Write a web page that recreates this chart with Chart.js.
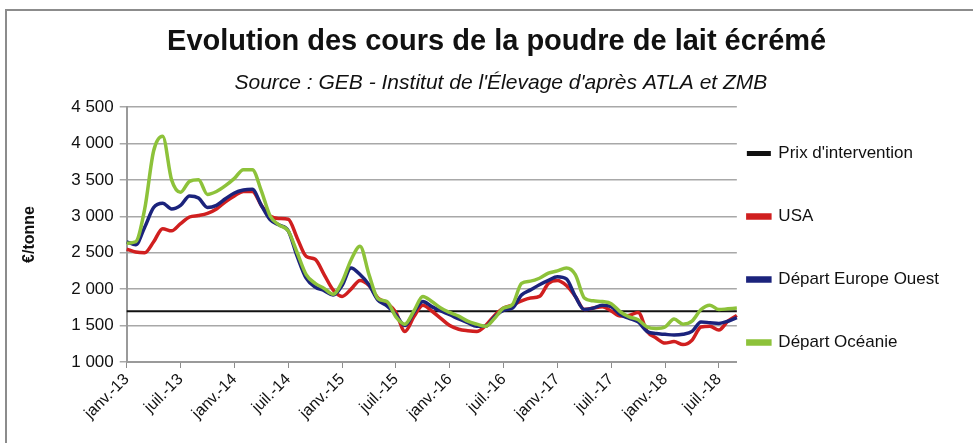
<!DOCTYPE html>
<html>
<head>
<meta charset="utf-8">
<script src="https://cdn.jsdelivr.net/npm/chart.js@4.4.1/dist/chart.umd.min.js"></script>
<style>
  html, body { margin: 0; padding: 0; background: #fff; }
  #wrap { position: relative; width: 973px; height: 443px; overflow: hidden; }
  #frame { position: absolute; left: 5px; top: 9px; width: 2000px; height: 2000px;
           border-top: 2px solid #8c8c8c; border-left: 2px solid #8c8c8c; pointer-events: none; }
  canvas { position: absolute; left: 0; top: 0; }
</style>
</head>
<body>
<div id="wrap">
  <canvas id="myChart" width="973" height="443"></canvas>
  <div id="frame"></div>
</div>
<script>
// mois / années -> catégories mensuelles janv.-13 .. sept.-18
const mois = ['janv.', 'févr.', 'mars', 'avr.', 'mai', 'juin', 'juil.', 'août', 'sept.', 'oct.', 'nov.', 'déc.'];
const annees = ['13', '14', '15', '16', '17', '18'];
const nbMois = 69;

// €/tonne, valeurs mensuelles
const prixIntervention = 1698;

const usa = [
    2550, 2510, 2500, 2650, 2830, 2800, 2900, 2990, 3010, 3040, 3100, 3200,
    3280, 3340, 3340, 3150, 3000, 2970, 2960, 2700, 2450, 2410, 2200, 1990,
    1900, 2000, 2120, 2050, 1880, 1810, 1680, 1420, 1620, 1780, 1700, 1600,
    1500, 1450, 1430, 1420, 1500, 1640, 1740, 1780, 1840, 1880, 1900, 2080,
    2120, 2050, 1900, 1720, 1740, 1760, 1700, 1630, 1640, 1680, 1420, 1330,
    1260, 1280, 1240, 1300, 1480, 1490, 1440, 1560, 1640
];

const europeOuest = [
    2650, 2610, 2850, 3120, 3180, 3100, 3150, 3280, 3250, 3120, 3150, 3240,
    3320, 3360, 3370, 3150, 2950, 2880, 2800, 2450, 2150, 2030, 1980, 1920,
    2050, 2290, 2200, 2060, 1850, 1770, 1650, 1500, 1680, 1830, 1760, 1700,
    1650, 1590, 1540, 1490, 1490, 1620, 1710, 1740, 1920, 1990, 2060, 2120,
    2170, 2140, 1900, 1720, 1740, 1780, 1760, 1650, 1600, 1550, 1420, 1390,
    1380, 1370, 1380, 1420, 1550, 1540, 1530, 1560, 1610
];

const oceanie = [
    2630, 2650, 3100, 3900, 4100, 3500, 3330, 3480, 3500, 3300, 3340, 3420,
    3520, 3640, 3640, 3350, 3000, 2880, 2800, 2500, 2200, 2080, 2010, 1930,
    2100, 2400, 2590, 2200, 1870, 1830, 1620, 1520, 1700, 1900, 1830, 1740,
    1680, 1630, 1560, 1520, 1490, 1600, 1740, 1790, 2080, 2110, 2150, 2220,
    2250, 2290, 2200, 1880, 1840, 1830, 1800, 1690, 1620, 1580, 1480, 1460,
    1480, 1590, 1520, 1560, 1720, 1780, 1720, 1730, 1740
];

const labels = [];
annees.forEach(a => mois.forEach(m => labels.push(m + '-' + a)));
labels.length = nbMois;

const police = "'Liberation Sans Narrow', 'Arial Narrow', 'Liberation Sans', Arial, sans-serif";

function milliers(v) {
    return String(v).replace(/\B(?=(\d{3})+(?!\d))/g, ' ');
}

// order : Océanie dessinée au-dessus, prix d'intervention en dessous
const data = {
    labels: labels,
    datasets: [
        {
            label: "Prix d'intervention",
            data: labels.map(() => prixIntervention),
            borderColor: '#111111',
            backgroundColor: '#111111',
            borderWidth: 2,
            order: 3
        },
        {
            label: 'USA',
            data: usa,
            borderColor: '#d01f1f',
            backgroundColor: '#d01f1f',
            borderWidth: 3.5,
            order: 2
        },
        {
            label: 'Départ Europe Ouest',
            data: europeOuest,
            borderColor: '#1b237c',
            backgroundColor: '#1b237c',
            borderWidth: 3.5,
            order: 1
        },
        {
            label: 'Départ Océanie',
            data: oceanie,
            borderColor: '#8dc23a',
            backgroundColor: '#8dc23a',
            borderWidth: 3.5,
            order: 0
        }
    ]
};

const config = {
    type: 'line',
    data: data,
    options: {
        responsive: false,
        animation: false,
        layout: { padding: { left: 12, right: 24, top: 0, bottom: 18 } },
        elements: {
            point: { radius: 0 },
            line: { tension: 0.4, cubicInterpolationMode: 'monotone' }
        },
        plugins: {
            title: {
                display: true,
                // espaces en tête : recentre le titre comme sur l'original
                text: '    Evolution des cours de la poudre de lait écrémé',
                color: '#111',
                font: { family: police, size: 29, weight: 'bold' },
                padding: { top: 25, bottom: 11 }
            },
            subtitle: {
                display: true,
                text: "       Source : GEB - Institut de l'Élevage d'après ATLA et ZMB",
                color: '#111',
                font: { family: police, size: 21, style: 'italic' },
                padding: { top: 0, bottom: 11 }
            },
            legend: {
                position: 'right',
                align: 'start',
                title: {
                    display: true,
                    text: '',
                    font: { size: 10 },
                    padding: { top: 122, bottom: 0 }
                },
                labels: {
                    color: '#111',
                    boxWidth: 22,
                    boxHeight: 3,
                    padding: 11,
                    font: { family: police, size: 17, lineHeight: '52px' },
                    sort: (a, b) => a.datasetIndex - b.datasetIndex,
                    generateLabels: function (chart) {
                        const items = Chart.defaults.plugins.legend.labels.generateLabels(chart);
                        items.forEach(it => { it.text = [it.text]; });
                        return items;
                    }
                }
            },
            tooltip: { enabled: false }
        },
        scales: {
            x: {
                type: 'category',
                offset: false,
                grid: {
                    display: true,
                    drawOnChartArea: false,
                    drawTicks: true,
                    tickLength: 6,
                    color: '#8c8c8c'
                },
                border: { display: true, color: '#9a9a9a', width: 2 },
                ticks: {
                    autoSkip: false,
                    minRotation: 45,
                    maxRotation: 45,
                    padding: 2,
                    color: '#111',
                    font: { family: police, size: 16 },
                    callback: function (val, idx) {
                        return idx % 6 === 0 ? labels[idx] : null;
                    }
                }
            },
            y: {
                min: 1000,
                max: 4500,
                grid: {
                    color: '#a8a8a8',
                    lineWidth: 1.5,
                    tickLength: 7
                },
                border: { display: true, color: '#9a9a9a', width: 2 },
                ticks: {
                    stepSize: 500,
                    padding: 6,
                    color: '#111',
                    font: { family: police, size: 17 },
                    callback: v => milliers(v)
                },
                title: {
                    display: true,
                    text: '€/tonne',
                    color: '#111',
                    font: { family: police, size: 16, weight: 'bold' },
                    padding: { top: 8, bottom: 26 }
                }
            }
        }
    }
};

const chart = new Chart(document.getElementById('myChart'), config);
</script>
</body>
</html>
